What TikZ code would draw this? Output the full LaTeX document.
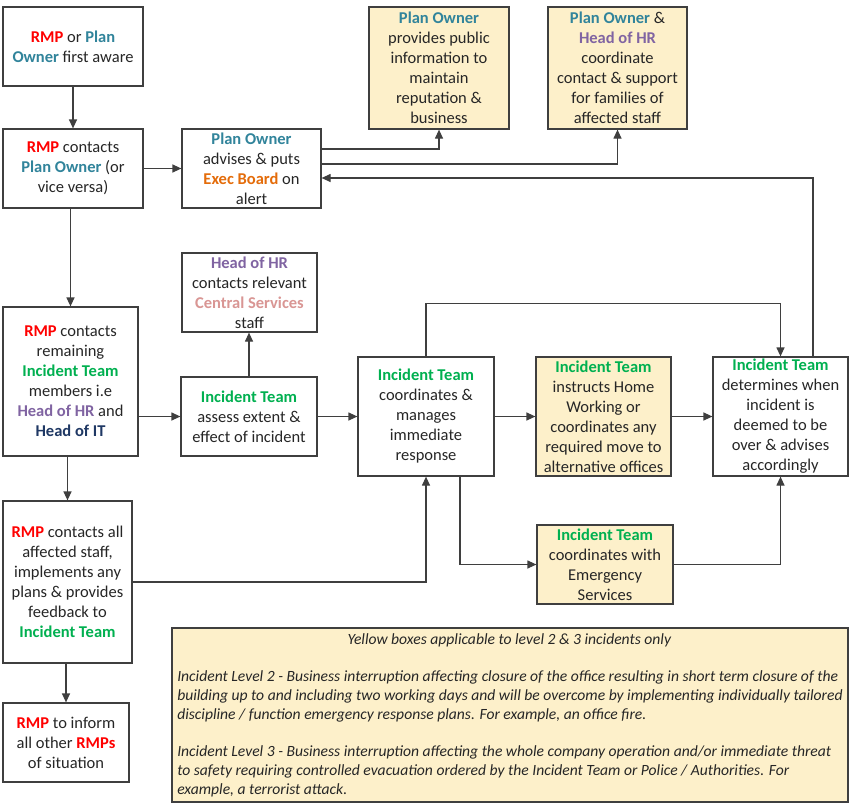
\documentclass[tikz,border=0pt]{standalone}
\usepackage{fontspec}
\setmainfont{Carlito}
\usepackage{tikz}
\usetikzlibrary{arrows.meta}
\usepackage{xcolor}

\definecolor{rmpred}{HTML}{FF0000}
\definecolor{ownerteal}{HTML}{31849B}
\definecolor{boardorange}{HTML}{E46C0A}
\definecolor{hrpurple}{HTML}{8064A2}
\definecolor{itnavy}{HTML}{1F3864}
\definecolor{teamgreen}{HTML}{00B050}
\definecolor{servpink}{HTML}{D99694}
\definecolor{bodytext}{HTML}{262626}
\definecolor{boxline}{HTML}{3F3F3F}
\definecolor{boxfill}{HTML}{FDF0CA}

\newcommand{\crmp}[1]{\textbf{\textcolor{rmpred}{#1}}}
\newcommand{\cpo}[1]{\textbf{\textcolor{ownerteal}{#1}}}
\newcommand{\ceb}[1]{\textbf{\textcolor{boardorange}{#1}}}
\newcommand{\chhr}[1]{\textbf{\textcolor{hrpurple}{#1}}}
\newcommand{\chit}[1]{\textbf{\textcolor{itnavy}{#1}}}
\newcommand{\cinc}[1]{\textbf{\textcolor{teamgreen}{#1}}}
\newcommand{\ccs}[1]{\textbf{\textcolor{servpink}{#1}}}

\begin{document}
\begin{tikzpicture}[x=1pt,y=-1pt,
        whitebox/.style={rectangle, draw=boxline, line width=1.2pt, fill=white, align=center,
            inner sep=2pt, text=bodytext, font=\fontsize{16.5}{20}\selectfont},
        yellowbox/.style={whitebox, fill=boxfill},
        conn/.style={-{Triangle[length=9pt,width=8pt]}, line width=1.2pt, draw=boxline},
        ]
        \useasboundingbox (0,0) rectangle (850,806);

        % left column
        \node (first) at (73,46.5) [whitebox, minimum width=140, minimum height=79]
            {\crmp{RMP} or \cpo{Plan}\\ \cpo{Owner} first aware};
        \node (contact) at (73,168.5) [whitebox, minimum width=140, minimum height=79]
            {\crmp{RMP} contacts\\ \cpo{Plan Owner} (or\\ vice versa)};
        \node (remain) at (70.5,381.5) [whitebox, minimum width=135, minimum height=149]
            {\crmp{RMP} contacts\\ remaining\\ \cinc{Incident Team}\\ members i.e\\ \chhr{Head of HR} and\\ \chit{Head of IT}};
        \node (allstaff) at (67.5,582) [whitebox, minimum width=129, minimum height=162]
            {\crmp{RMP} contacts all\\ affected staff,\\ implements any\\ plans \& provides\\ feedback to\\ \cinc{Incident Team}};
        \node (others) at (66,742.5) [whitebox, minimum width=126, minimum height=79]
            {\crmp{RMP} to inform\\ all other \crmp{RMPs}\\ of situation};

        % top row
        \node (alert) at (251.5,168.5) [whitebox, minimum width=139, minimum height=79]
            {\cpo{Plan Owner}\\ advises \& puts\\ \ceb{Exec Board} on\\ alert};
        \node (public) at (439,68) [yellowbox, minimum width=140, minimum height=122]
            {\cpo{Plan Owner}\\ provides public\\ information to\\ maintain\\ reputation \&\\ business};
        \node (families) at (617.5,68) [yellowbox, minimum width=139, minimum height=122]
            {\cpo{Plan Owner} \&\\ \chhr{Head of HR}\\ coordinate\\ contact \& support\\ for families of\\ affected staff};

        % middle row
        \node (central) at (249.5,292.5) [whitebox, minimum width=135, minimum height=79]
            {\chhr{Head of HR}\\ contacts relevant\\ \ccs{Central Services}\\ staff};
        \node (assess) at (249,416.5) [whitebox, minimum width=136, minimum height=79]
            {\cinc{Incident Team}\\ assess extent \&\\ effect of incident};
        \node (manage) at (426,416.5) [whitebox, minimum width=136, minimum height=119]
            {\cinc{Incident Team}\\ coordinates \&\\ manages\\ immediate\\ response};
        \node (home) at (603.5,416.5) [yellowbox, minimum width=135, minimum height=119]
            {\cinc{Incident Team}\\ instructs Home\\ Working or\\ coordinates any\\ required move to\\ alternative offices};
        \node (over) at (780.5,416.5) [whitebox, minimum width=135, minimum height=119]
            {\cinc{Incident Team}\\ determines when\\ incident is\\ deemed to be\\ over \& advises\\ accordingly};
        \node (emerg) at (605,564.5) [yellowbox, minimum width=136, minimum height=79]
            {\cinc{Incident Team}\\ coordinates with\\ Emergency\\ Services};

        % notes
        \node (notes) at (510,715) [yellowbox, minimum width=676, minimum height=174, inner sep=5pt,
            align=left, font=\fontsize{15.6}{19}\selectfont\itshape] {%
            \makebox[664pt][c]{Yellow boxes applicable to level 2 \& 3 incidents only}\\[18pt]
            Incident Level 2 - Business interruption affecting closure of the office resulting in short term closure of the\\
            building up to and including two working days and will be overcome by implementing individually tailored\\
            discipline / function emergency response plans. For example, an office fire.\\[18pt]
            Incident Level 3 - Business interruption affecting the whole company operation and/or immediate threat\\
            to safety requiring controlled evacuation ordered by the Incident Team or Police / Authorities. For\\
            example, a terrorist attack.};

        % connectors
        \draw[conn] (first) -- (contact);
        \draw[conn] (contact) -- (alert);
        \draw[conn] (remain.north |- contact.south) -- (remain.north);
        \draw[conn] (allstaff.north |- remain.south) -- (allstaff.north);
        \draw[conn] (others.north |- allstaff.south) -- (others.north);
        \draw[conn] ([yshift=19.5pt]alert.east) -| (public.south);
        \draw[conn] ([yshift=4.5pt]alert.east) -| (families.south);
        \draw[conn] ([xshift=32.5pt]over.north) |- ([yshift=-9.5pt]alert.east);
        \draw[conn] (remain.east |- assess.west) -- (assess.west);
        \draw[conn] (assess) -- (manage);
        \draw[conn] (assess.north) -- (assess.north |- central.south);
        \draw[conn] (manage) -- (home);
        \draw[conn] (home) -- (over);
        \draw[conn] (manage.north) -- ++(0,-53) -| (over.north);
        \draw[conn] ([xshift=34pt]manage.south) |- (emerg.west);
        \draw[conn] (emerg.east) -| (over.south);
        \draw[conn] (allstaff.east) -| (manage.south);

    \end{tikzpicture}
\end{document}
